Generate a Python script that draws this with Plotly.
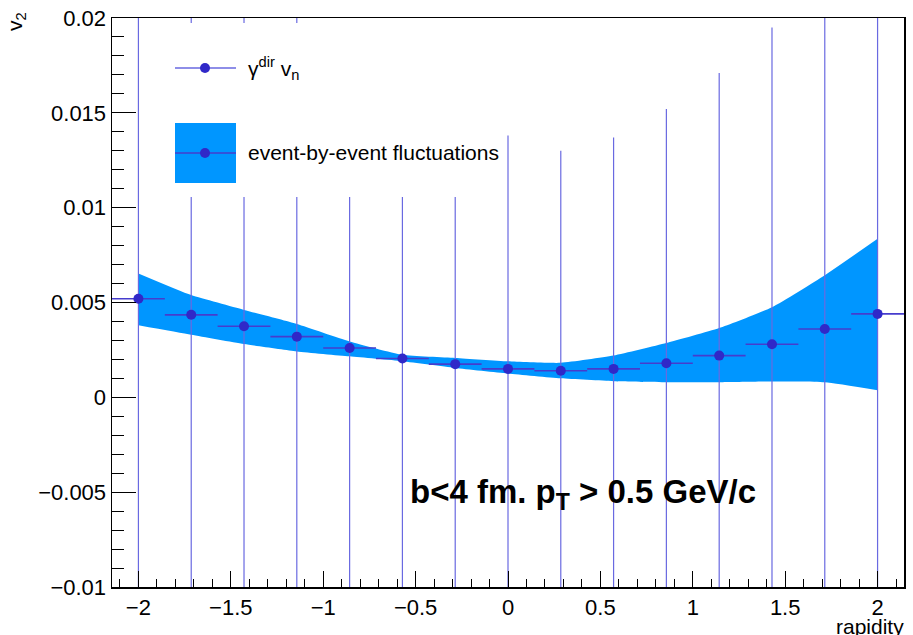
import plotly.graph_objects as go

# ---------------- data ----------------
rapidity = [-2.0, -1.7143, -1.4286, -1.1429, -0.8571, -0.5714, -0.2857, 0.0,
            0.2857, 0.5714, 0.8571, 1.1429, 1.4286, 1.7143, 2.0]
v2 = [0.0052, 0.00435, 0.00375, 0.0032, 0.0026, 0.00205, 0.00175, 0.0015,
      0.0014, 0.0015, 0.0018, 0.0022, 0.0028, 0.0036, 0.0044]
v2_err = [0.016, 0.016, 0.017, 0.017, 0.014, 0.0135, 0.013, 0.0123,
          0.0116, 0.0122, 0.0134, 0.0149, 0.0167, 0.018, 0.019]
x_halfwidth = [0.1429] * 15
band_upper = [0.00653, 0.00539, 0.00461, 0.00387, 0.00295, 0.00225, 0.00208, 0.0019,
              0.00182, 0.0022, 0.00286, 0.00365, 0.00475, 0.00644, 0.00836]
band_lower = [0.0038, 0.0033, 0.00281, 0.00242, 0.00216, 0.0019, 0.00155, 0.00126,
              0.0010, 0.00085, 0.0008, 0.0008, 0.00084, 0.0008, 0.00038]

x_tickvals = [-2, -1.5, -1, -0.5, 0, 0.5, 1, 1.5, 2]
x_ticktext = ["\u22122", "\u22121.5", "\u22121", "\u22120.5", "0", "0.5", "1", "1.5", "2"]
y_tickvals = [-0.01, -0.005, 0, 0.005, 0.01, 0.015, 0.02]
y_ticktext = ["\u22120.01", "\u22120.005", "0", "0.005", "0.01", "0.015", "0.02"]

# ---------------- style ----------------
W, H = 913, 635
L, R, T, B = 112, 904, 18, 587
FONT = "Liberation Sans, Arial, sans-serif"
BAND = "#0096ff"
MARK = "rgb(48,40,200)"
ERRV = "rgb(105,105,225)"
ERRH = "rgb(70,60,205)"


def px(x):
    return (x - L) / (R - L)


def py(y):
    return (B - y) / (B - T)


fig = go.Figure()

# band (event-by-event fluctuations)
fig.add_trace(go.Scatter(
    x=rapidity, y=band_lower, mode="lines",
    line=dict(color=BAND, width=0, shape="spline", smoothing=0.5),
    hoverinfo="skip", showlegend=False))
fig.add_trace(go.Scatter(
    x=rapidity, y=band_upper, mode="lines", fill="tonexty", fillcolor=BAND,
    line=dict(color=BAND, width=0, shape="spline", smoothing=0.5),
    hoverinfo="skip", showlegend=False))

# points with error bars
fig.add_trace(go.Scatter(
    x=rapidity, y=v2, mode="markers",
    marker=dict(color=MARK, size=10),
    error_y=dict(type="data", array=v2_err, visible=True, color=ERRV,
                 thickness=1.2, width=0),
    error_x=dict(type="data", array=x_halfwidth, visible=True, color=ERRH,
                 thickness=1.6, width=0),
    showlegend=False))

shapes = []
# white legend background (covers error bars like the ROOT TLegend)
shapes.append(dict(type="rect", xref="paper", yref="paper",
                   x0=px(150), x1=px(507), y0=py(197), y1=py(23),
                   fillcolor="white", line=dict(width=0), layer="above"))
# legend entry 1: line + marker
shapes.append(dict(type="line", xref="paper", yref="paper",
                   x0=px(175), x1=px(236), y0=py(68), y1=py(68),
                   line=dict(color=ERRV, width=1.5), layer="above"))
shapes.append(dict(type="circle", xref="paper", yref="paper",
                   x0=px(200), x1=px(210), y0=py(73), y1=py(63),
                   fillcolor=MARK, line=dict(width=0), layer="above"))
# legend entry 2: band box + line + marker
shapes.append(dict(type="rect", xref="paper", yref="paper",
                   x0=px(175), x1=px(236), y0=py(183), y1=py(123),
                   fillcolor=BAND, line=dict(width=0), layer="above"))
shapes.append(dict(type="line", xref="paper", yref="paper",
                   x0=px(175), x1=px(236), y0=py(153), y1=py(153),
                   line=dict(color=ERRH, width=1.5), layer="above"))
shapes.append(dict(type="circle", xref="paper", yref="paper",
                   x0=px(200), x1=px(210), y0=py(158), y1=py(148),
                   fillcolor=MARK, line=dict(width=0), layer="above"))

annotations = [
    dict(text="\u03b3<sup>dir</sup> v<sub>n</sub>", xref="paper", yref="paper",
         x=px(246), y=py(68), xanchor="left", yanchor="middle", showarrow=False,
         font=dict(family=FONT, size=21, color="black")),
    dict(text="event-by-event fluctuations", xref="paper", yref="paper",
         x=px(246), y=py(153), xanchor="left", yanchor="middle", showarrow=False,
         font=dict(family=FONT, size=21, color="black")),
    dict(text="<b>b&lt;4 fm. p<sub>T</sub> &gt; 0.5 GeV/c</b>", xref="paper", yref="paper",
         x=px(408), y=py(494), xanchor="left", yanchor="middle", showarrow=False,
         font=dict(family=FONT, size=33, color="black")),
    dict(text="v<sub>2</sub>", xref="paper", yref="paper",
         x=px(16), y=py(22), xanchor="center", yanchor="middle", showarrow=False,
         textangle=-90, font=dict(family=FONT, size=21, color="black")),
    dict(text="rapidity", xref="paper", yref="paper",
         x=px(906), y=py(626), xanchor="right", yanchor="middle", showarrow=False,
         font=dict(family=FONT, size=21, color="black")),
]

fig.update_layout(
    width=W, height=H,
    margin=dict(l=L, r=W - R, t=T, b=H - B, autoexpand=False),
    paper_bgcolor="white", plot_bgcolor="white",
    shapes=shapes, annotations=annotations,
    font=dict(family=FONT, size=22, color="black"),
    xaxis=dict(range=[-2.143, 2.143], tickmode="array", tickvals=x_tickvals,
               ticktext=x_ticktext, ticks="inside", ticklen=16, tickwidth=1,
               tickcolor="black", showgrid=False, zeroline=False, automargin=False,
               showline=True, linecolor="black", linewidth=1.5, mirror=True,
               minor=dict(dtick=0.1, tick0=0, ticks="inside", ticklen=8,
                          tickcolor="black", showgrid=False),
               tickfont=dict(family=FONT, size=22)),
    yaxis=dict(range=[-0.01, 0.02], tickmode="array", tickvals=y_tickvals,
               ticktext=y_ticktext, ticks="inside", ticklen=24, tickwidth=1,
               tickcolor="black", showgrid=False, zeroline=False, automargin=False,
               showline=True, linecolor="black", linewidth=1.5, mirror=True,
               minor=dict(dtick=0.001, tick0=0, ticks="inside", ticklen=12,
                          tickcolor="black", showgrid=False),
               tickfont=dict(family=FONT, size=22)),
)

fig.write_html("out.html",
               config={"displayModeBar": False, "staticPlot": True},
               post_script="document.body.style.margin='0';"
                           "document.body.style.overflow='hidden';")
